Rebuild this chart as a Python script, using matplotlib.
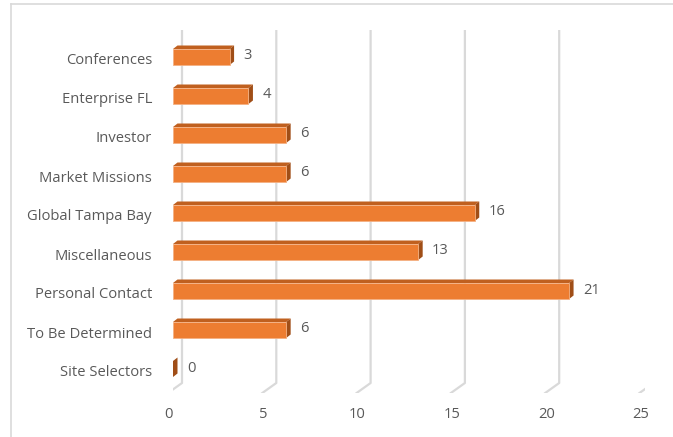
import matplotlib
matplotlib.use("Agg")
import matplotlib.pyplot as plt
from matplotlib.patches import Polygon
from matplotlib.lines import Line2D
import matplotlib.transforms as mtransforms

categories = ["Conferences", "Enterprise FL", "Investor", "Market Missions",
              "Global Tampa Bay", "Miscellaneous", "Personal Contact",
              "To Be Determined", "Site Selectors"]
values = [3, 4, 6, 6, 16, 13, 21, 6, 0]
ticks = [0, 5, 10, 15, 20, 25]

W, H = 673, 437
plt.rcParams['font.family'] = ['Open Sans', 'DejaVu Sans']
text_color = '#595959'
front = '#ED7D31'
top_c = '#C0601F'
side_c = '#A04E17'
grid_c = '#D9D9D9'
fs = 10.6

fig = plt.figure(figsize=(W / 100, H / 100), dpi=100)
# axes placed so the front plane runs from px 173 (0) to 644.5 (25)
ax = fig.add_axes([173 / W, 1 - 393 / H, 471.5 / W, 363 / H])
ax.set_xlim(0, 25)
ax.set_ylim((393 - 57) / 39, -(57 - 30) / 39)
ax.axis('off')

ident = mtransforms.IdentityTransform()


def disp(x, y, dx=0, dy=0):
    # data -> display pixels, then shift by pixels (dy positive = up)
    px, py = ax.transData.transform((x, y))
    return (px + dx, py + dy)


# chart area border (runs off the right and bottom)
fig.add_artist(Line2D([11 / W, 11 / W], [0, 1 - 4 / H], transform=fig.transFigure,
                      color=grid_c, lw=1.2))
fig.add_artist(Line2D([11 / W, 1], [1 - 4 / H, 1 - 4 / H], transform=fig.transFigure,
                      color=grid_c, lw=1.2))

# back-wall gridlines and floor diagonals
y_top = -(57 - 30) / 39
y_bot = (383 - 57) / 39
y_floor = (393 - 57) / 39
for t in ticks:
    p1 = disp(t, y_top, 9)
    p2 = disp(t, y_bot, 9)
    p3 = disp(t, y_floor, -5)
    ax.add_line(Line2D([p1[0], p2[0], p3[0]], [p1[1], p2[1], p3[1]],
                       transform=ident, color=grid_c, lw=1.6, zorder=1))
    lx, ly = disp(t, y_floor, -4, -22)
    fig.text(lx / W, ly / H, str(t), ha='center', va='center',
             fontsize=fs, color=text_color)

# 3D bars
h = 16 / 39
ddx, ddy = 4.5, 3.5
for i, (cat, v) in enumerate(zip(categories, values)):
    y0 = i - h / 2
    y1 = i + h / 2
    # top face
    ax.add_patch(Polygon([disp(0, y0), disp(0, y0, ddx, ddy),
                          disp(v, y0, ddx, ddy), disp(v, y0)],
                         closed=True, transform=ident, facecolor=top_c,
                         edgecolor='none', zorder=3))
    # side face
    ax.add_patch(Polygon([disp(v, y0), disp(v, y0, ddx, ddy),
                          disp(v, y1, ddx, ddy), disp(v, y1)],
                         closed=True, transform=ident, facecolor=side_c,
                         edgecolor='none', zorder=3))
    # front face
    if v > 0:
        ax.barh(i, v, height=h, color=front, edgecolor='#F4B183',
                linewidth=0.6, zorder=4)
    # value label
    vx, vy = disp(v, i, 14, 1)
    fig.text(vx / W, vy / H, str(v), ha='left', va='center',
             fontsize=fs, color=text_color)
    # category label
    cx, cy = disp(0, i, -21, -4)
    fig.text(cx / W, cy / H, cat, ha='right', va='center',
             fontsize=fs, color=text_color)

fig.savefig('out.png', dpi=100)
